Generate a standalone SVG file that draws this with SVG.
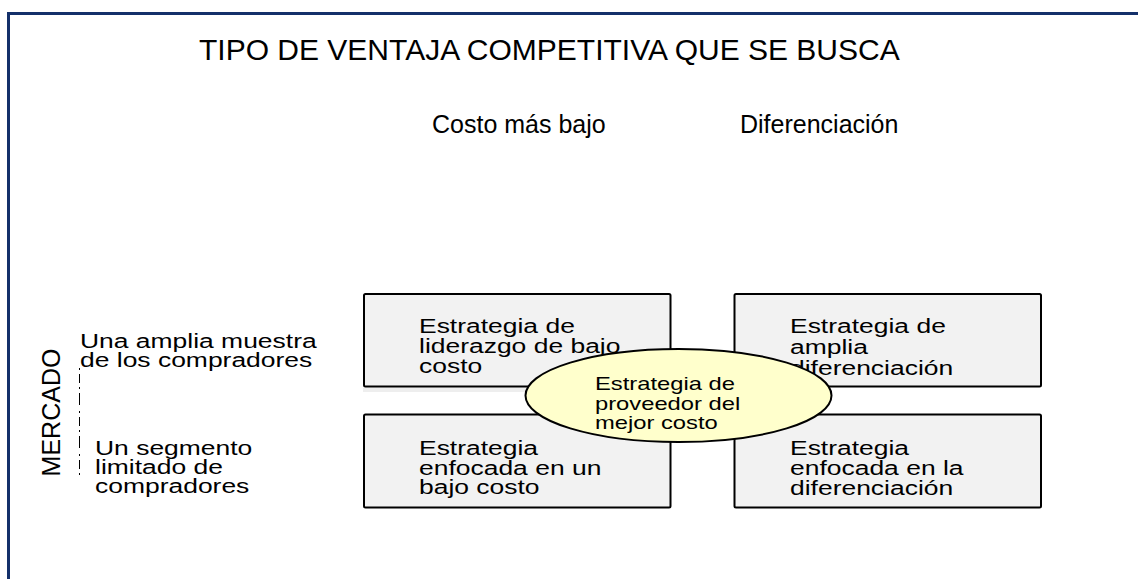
<svg xmlns="http://www.w3.org/2000/svg" width="1138" height="579" viewBox="0 0 1138 579">
<style>
text{font-family:"Liberation Sans",Arial,sans-serif;fill:#000}
.title{font-size:30px}
.head{font-size:25px}
.lbl{font-size:21px}
.ell{font-size:19px}
.box{fill:#f2f2f2;stroke:#000;stroke-width:2}
</style>
<rect x="0" y="0" width="1138" height="579" fill="#fff"/>
<rect x="8.5" y="13.5" width="1140" height="580" fill="none" stroke="#14306a" stroke-width="3"/>
<text class="title" x="199" y="60">TIPO DE VENTAJA COMPETITIVA QUE SE BUSCA</text>
<text class="head" x="432" y="133">Costo más bajo</text>
<text class="head" x="740" y="133">Diferenciación</text>
<text class="head" transform="translate(60,412.5) rotate(-90)" text-anchor="middle">MERCADO</text>
<line x1="79.5" y1="368" x2="79.5" y2="475" stroke="#000" stroke-width="1" stroke-dasharray="2,4,9,4,2,4,12,6"/>
<g id="row-amplia" transform="translate(80,0) scale(1.26,1)">
<text class="lbl" x="0" y="348">Una amplia muestra</text>
<text class="lbl" x="0" y="367">de los compradores</text>
</g>
<g id="row-segmento" transform="translate(95,0) scale(1.26,1)">
<text class="lbl" x="0" y="455">Un segmento</text>
<text class="lbl" x="0" y="474">limitado de</text>
<text class="lbl" x="0" y="493">compradores</text>
</g>
<rect x="363" y="387.5" width="200" height="4.5" fill="#eeeeee"/>
<g id="box-liderazgo">
<rect class="box" x="364" y="294" width="306.5" height="92.5" rx="1.5"/>
<g transform="translate(419,0) scale(1.26,1)">
<text class="lbl" x="0" y="333">Estrategia de</text>
<text class="lbl" x="0" y="353.5">liderazgo de bajo</text>
<text class="lbl" x="0" y="373">costo</text>
</g>
</g>
<g id="box-amplia-dif">
<rect class="box" x="734.5" y="294" width="306.5" height="92.5" rx="1.5"/>
<g transform="translate(790,0) scale(1.26,1)">
<text class="lbl" x="0" y="333">Estrategia de</text>
<text class="lbl" x="0" y="354">amplia</text>
<text class="lbl" x="0" y="375">diferenciación</text>
</g>
</g>
<g id="box-enfocada-bajo">
<rect class="box" x="364" y="414.5" width="306.5" height="93" rx="1.5"/>
<g transform="translate(419,0) scale(1.26,1)">
<text class="lbl" x="0" y="455">Estrategia</text>
<text class="lbl" x="0" y="475">enfocada en un</text>
<text class="lbl" x="0" y="494">bajo costo</text>
</g>
</g>
<g id="box-enfocada-dif">
<rect class="box" x="734.5" y="414.5" width="306.5" height="93" rx="1.5"/>
<g transform="translate(790,0) scale(1.26,1)">
<text class="lbl" x="0" y="455">Estrategia</text>
<text class="lbl" x="0" y="475">enfocada en la</text>
<text class="lbl" x="0" y="495">diferenciación</text>
</g>
</g>
<g id="ellipse-mejor-costo">
<ellipse cx="678.5" cy="395.5" rx="153" ry="46.5" fill="#ffffcc" stroke="#000" stroke-width="2"/>
<g transform="translate(595,0) scale(1.25,1)">
<text class="ell" x="0" y="390">Estrategia de</text>
<text class="ell" x="0" y="410">proveedor del</text>
<text class="ell" x="0" y="429">mejor costo</text>
</g>
</g>
<g id="connectors"/>
</svg>
